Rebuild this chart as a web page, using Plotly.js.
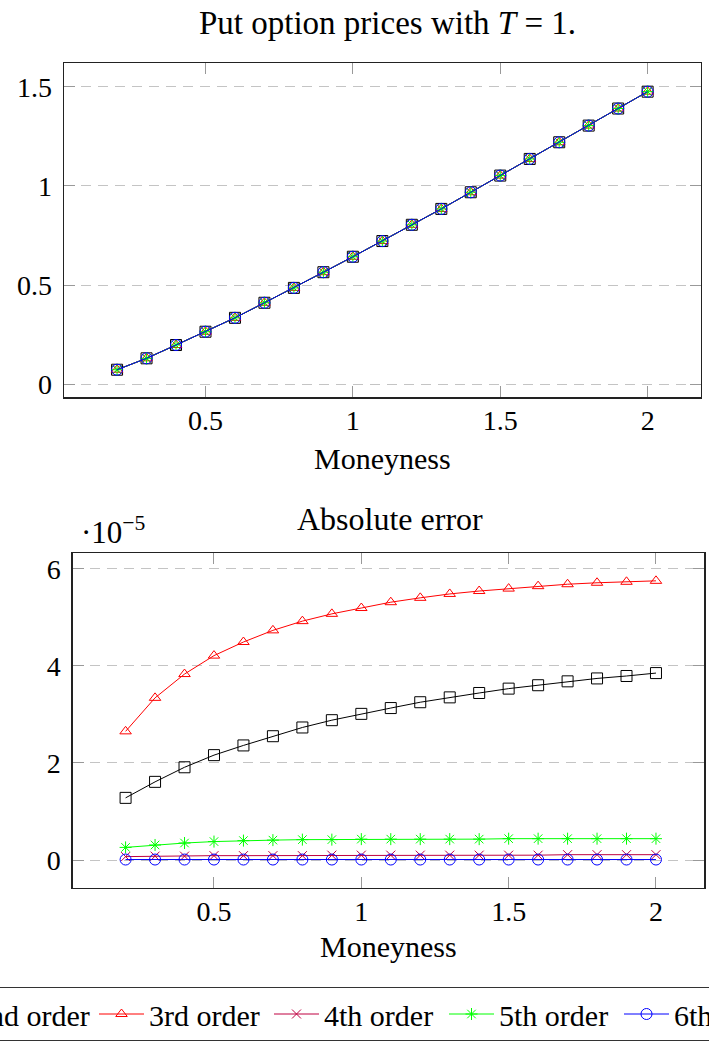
<!DOCTYPE html>
<html>
<head>
<meta charset="utf-8">
<script src="https://cdn.plot.ly/plotly-3.0.1.min.js"></script>
<style>
  html, body { margin: 0; padding: 0; overflow: hidden; background: #fff; width: 709px; height: 1045px; }
  #plot { position: absolute; left: -100px; top: 0; width: 909px; height: 1045px; }
</style>
</head>
<body>
<div id="plot"></div>
<script>
// ---- data ----
const moneyness = [0.2, 0.3, 0.4, 0.5, 0.6, 0.7, 0.8, 0.9, 1.0, 1.1, 1.2, 1.3, 1.4, 1.5, 1.6, 1.7, 1.8, 1.9, 2.0];
const putPrice = [0.0735, 0.131, 0.198, 0.265, 0.335, 0.411, 0.486, 0.565, 0.643, 0.722, 0.804, 0.884, 0.968, 1.052, 1.136, 1.220, 1.304, 1.390, 1.475];
// absolute errors in units of 1e-5
const err2nd = [1.28, 1.61, 1.91, 2.16, 2.36, 2.55, 2.73, 2.88, 3.01, 3.13, 3.25, 3.35, 3.44, 3.53, 3.60, 3.68, 3.74, 3.79, 3.85];
const err3rd = [2.65, 3.34, 3.83, 4.21, 4.49, 4.73, 4.92, 5.07, 5.19, 5.31, 5.40, 5.48, 5.54, 5.59, 5.64, 5.68, 5.71, 5.73, 5.75];
const err4th = [0.07, 0.08, 0.08, 0.09, 0.09, 0.09, 0.09, 0.10, 0.10, 0.10, 0.10, 0.10, 0.10, 0.10, 0.10, 0.11, 0.11, 0.11, 0.11];
const err5th = [0.26, 0.31, 0.35, 0.38, 0.40, 0.41, 0.42, 0.42, 0.43, 0.43, 0.43, 0.43, 0.43, 0.44, 0.44, 0.44, 0.44, 0.44, 0.44];
const err6th = [0.01, 0.01, 0.01, 0.01, 0.01, 0.01, 0.01, 0.01, 0.01, 0.01, 0.01, 0.01, 0.01, 0.01, 0.01, 0.01, 0.01, 0.01, 0.01];
const seriesNames = ['2nd order', '3rd order', '4th order', '5th order', '6th order'];
const topTitle = 'Put option prices with <i>T</i> = 1.';
const bottomTitle = 'Absolute error';
const xTitle = 'Moneyness';
const yScaleLabel = '·10<sup>−5</sup>';

// ---- styles ----
const errSeries = [err2nd, err3rd, err4th, err5th, err6th];
const styles = [
  {color: '#000000', symbol: 'square-open', size: 11},
  {color: '#ff0000', symbol: 'triangle-up-open', size: 10},
  {color: '#bf0040', symbol: 'x-thin-open', size: 9},
  {color: '#00ff00', symbol: 'asterisk-open', size: 10},
  {color: '#0000ff', symbol: 'circle-open', size: 11}
];
const FONT = 'Liberation Serif, Times New Roman, serif';
const W = 909, H = 1045, OFF = 100;
const px = x => (x + OFF) / W;      // page x -> paper x
const py = y => 1 - y / H;          // page y -> paper y

const traces = [];
seriesNames.forEach((name, i) => {
  const s = styles[i];
  traces.push({
    x: moneyness, y: putPrice, xaxis: 'x', yaxis: 'y',
    type: 'scatter', mode: 'lines+markers', name: name, showlegend: false,
    line: {color: s.color, width: 1},
    marker: {symbol: s.symbol, size: s.size, color: s.color, line: {color: s.color, width: 1}}
  });
});
seriesNames.forEach((name, i) => {
  const s = styles[i];
  traces.push({
    x: moneyness, y: errSeries[i], xaxis: 'x2', yaxis: 'y2',
    type: 'scatter', mode: 'lines+markers', name: name, showlegend: true,
    line: {color: s.color, width: 1},
    marker: {symbol: s.symbol, size: s.size, color: s.color, line: {color: s.color, width: 1}}
  });
});

const axisCommon = {
  showline: true, linecolor: '#222', linewidth: 1.3, mirror: 'ticks',
  ticks: 'inside', ticklen: 11, tickcolor: '#999', tickwidth: 1,
  zeroline: false, tickfont: {family: FONT, size: 28, color: '#000'},
  fixedrange: true
};
const xCommon = Object.assign({}, axisCommon, {
  showgrid: false, tickvals: [0.5, 1, 1.5, 2], ticktext: ['0.5', '1', '1.5', '2'], ticklabelstandoff: -2
});
const yCommon = Object.assign({}, axisCommon, {
  showgrid: true, gridcolor: '#c4c4c4', gridwidth: 1, griddash: '10px,7px', ticklabelstandoff: 5
});

const layout = {
  width: W, height: H,
  margin: {l: 0, r: 0, t: 0, b: 0},
  paper_bgcolor: '#fff', plot_bgcolor: '#fff',
  font: {family: FONT, size: 28, color: '#000'},
  showlegend: true,
  xaxis: Object.assign({}, xCommon, {domain: [px(64), px(700.7)], range: [0.02, 2.18], anchor: 'y'}),
  yaxis: Object.assign({}, yCommon, {domain: [py(397.3), py(63.3)], range: [-0.0655, 1.618], anchor: 'x',
    tickvals: [0, 0.5, 1, 1.5], ticktext: ['0', '0.5', '1', '1.5']}),
  xaxis2: Object.assign({}, xCommon, {domain: [px(72.7), px(704.3)], range: [0.0205, 2.164], anchor: 'y2'}),
  yaxis2: Object.assign({}, yCommon, {domain: [py(887.7), py(553.3)], range: [-0.57, 6.317], anchor: 'x2',
    tickvals: [0, 2, 4, 6], ticktext: ['0', '2', '4', '6']}),
  legend: {
    orientation: 'h', x: px(356.5), xanchor: 'center', y: py(987), yanchor: 'top',
    bordercolor: '#333', borderwidth: 1, bgcolor: '#fff',
    font: {family: FONT, size: 30, color: '#000'},
    itemwidth: 45, entrywidth: 115, entrywidthmode: 'pixels', itemclick: false, itemdoubleclick: false
  },
  annotations: [
    {text: topTitle, xref: 'paper', yref: 'paper', x: px(387), y: py(23), xanchor: 'center', yanchor: 'middle', showarrow: false, font: {family: FONT, size: 33}},
    {text: xTitle, xref: 'paper', yref: 'paper', x: px(382), y: py(458), xanchor: 'center', yanchor: 'middle', showarrow: false, font: {family: FONT, size: 30}},
    {text: bottomTitle, xref: 'paper', yref: 'paper', x: px(390), y: py(519), xanchor: 'center', yanchor: 'middle', showarrow: false, font: {family: FONT, size: 32}},
    {text: yScaleLabel, xref: 'paper', yref: 'paper', x: px(79), y: py(530), xanchor: 'left', yanchor: 'middle', showarrow: false, font: {family: FONT, size: 31}},
    {text: xTitle, xref: 'paper', yref: 'paper', x: px(389), y: py(946), xanchor: 'center', yanchor: 'middle', showarrow: false, font: {family: FONT, size: 30}}
  ]
};

Plotly.newPlot('plot', traces, layout, {staticPlot: true, displayModeBar: false});
</script>
</body>
</html>
